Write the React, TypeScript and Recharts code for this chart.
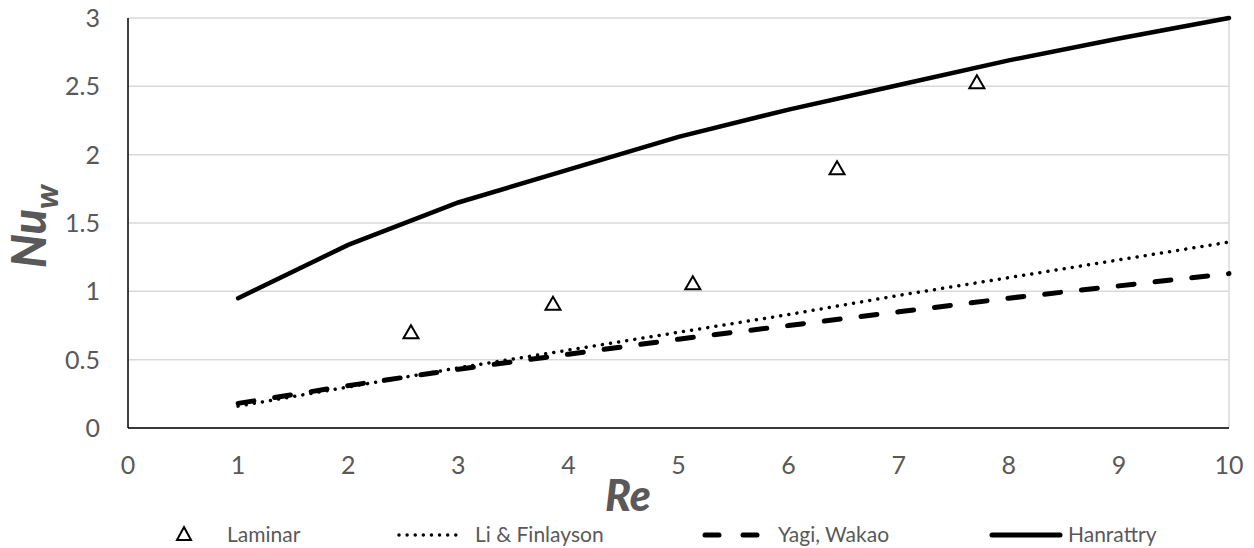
import {
  ComposedChart,
  Line,
  Scatter,
  XAxis,
  YAxis,
  CartesianGrid,
  ReferenceLine
} from "recharts";

const reValues = [1, 2, 3, 4, 5, 6, 7, 8, 9, 10];
const liFinlayson = [0.16, 0.3, 0.44, 0.57, 0.7, 0.83, 0.97, 1.1, 1.23, 1.36];
const yagiWakao = [0.18, 0.31, 0.43, 0.54, 0.65, 0.75, 0.85, 0.95, 1.04, 1.13];
const hanrattry = [0.95, 1.34, 1.65, 1.89, 2.13, 2.33, 2.51, 2.69, 2.85, 3.0];

const laminarRe = [2.57, 3.86, 5.13, 6.44, 7.71];
const laminarNu = [0.7, 0.91, 1.06, 1.9, 2.53];

const xTicks = [0, 1, 2, 3, 4, 5, 6, 7, 8, 9, 10];
const yTicks = [0, 0.5, 1, 1.5, 2, 2.5, 3];

const FONT = "Lato, 'Open Sans', sans-serif";
const GREY = "#595959";

const toPoints = (ys: number[]) => reValues.map((x, i) => ({ x, y: ys[i] }));
const laminarData = laminarRe.map((x, i) => ({ x, y: laminarNu[i] }));

const Triangle = (props: any) => {
  const { cx, cy } = props;
  if (cx == null || cy == null) return null;
  return (
    <path
      d={`M${cx},${cy - 7} L${cx + 7.5},${cy + 6} L${cx - 7.5},${cy + 6} Z`}
      fill="#fff"
      stroke="#000"
      strokeWidth={2}
    />
  );
};

const YLabel = () => (
  <text
    x={46}
    y={268}
    transform="rotate(-90, 46, 268)"
    fill={GREY}
    fontFamily={FONT}
    fontWeight={900}
    fontStyle="italic"
  >
    <tspan fontSize={47}>Nu</tspan>
    <tspan fontSize={33} dy={12}>w</tspan>
  </text>
);

function LegendRow() {
  const text = { fill: GREY, fontFamily: FONT, fontSize: 21 } as const;
  return (
    <svg width={1254} height={40} style={{ position: "absolute", left: 0, top: 514 }}>
      <path d="M184,13 L191,26 L177,26 Z" fill="#fff" stroke="#000" strokeWidth={2} />
      <text x={227} y={28} {...text}>Laminar</text>
      <line x1={399} y1={21} x2={463} y2={21} stroke="#000" strokeWidth={3.5} strokeDasharray="0.01 8.1" strokeLinecap="round" />
      <text x={475} y={28} {...text}>Li &amp; Finlayson</text>
      <line x1={705} y1={21} x2={760} y2={21} stroke="#000" strokeWidth={5} strokeDasharray="14 24" strokeLinecap="round" />
      <text x={778} y={28} {...text}>Yagi, Wakao</text>
      <line x1={992} y1={21} x2={1060} y2={21} stroke="#000" strokeWidth={5} strokeLinecap="round" />
      <text x={1068} y={28} {...text}>Hanrattry</text>
    </svg>
  );
}

export default function App() {
  return (
    <div style={{ position: "absolute", left: 0, top: 0, width: 1254, height: 548, background: "#fff" }}>
      <ComposedChart width={1254} height={548} margin={{ top: 18, right: 25, left: 0, bottom: 0 }}>
        <CartesianGrid vertical={false} stroke="#d9d9d9" strokeWidth={1.5} />
        <ReferenceLine x={10} stroke="#d9d9d9" strokeWidth={1.5} />
        <XAxis
          type="number"
          dataKey="x"
          domain={[0, 10]}
          ticks={xTicks}
          height={120}
          tickSize={0}
          tickMargin={28}
          axisLine={{ stroke: "#000", strokeWidth: 1.5 }}
          tick={{ fill: GREY, fontFamily: FONT, fontSize: 25 }}
          label={({ viewBox }: any) => (
            <text
              x={628}
              y={viewBox.y + 83}
              textAnchor="middle"
              fill={GREY}
              fontFamily={FONT}
              fontSize={43}
              fontWeight={900}
              fontStyle="italic"
            >
              Re
            </text>
          )}
        />
        <YAxis
          type="number"
          domain={[0, 3]}
          ticks={yTicks}
          width={128}
          tickSize={0}
          tickMargin={28}
          axisLine={{ stroke: "#000", strokeWidth: 1.5 }}
          tick={{ fill: GREY, fontFamily: FONT, fontSize: 25 }}
          label={<YLabel />}
        />
        <Line
          data={toPoints(liFinlayson)}
          dataKey="y"
          stroke="#000"
          strokeWidth={3.5}
          strokeDasharray="0.01 8.2"
          strokeLinecap="round"
          dot={false}
          type="linear"
          isAnimationActive={false}
        />
        <Line
          data={toPoints(yagiWakao)}
          dataKey="y"
          stroke="#000"
          strokeWidth={5}
          strokeDasharray="16 21"
          strokeLinecap="round"
          dot={false}
          type="linear"
          isAnimationActive={false}
        />
        <Line
          data={toPoints(hanrattry)}
          dataKey="y"
          stroke="#000"
          strokeWidth={4.5}
          strokeLinecap="round"
          dot={false}
          type="linear"
          isAnimationActive={false}
        />
        <Scatter data={laminarData} dataKey="y" shape={<Triangle />} isAnimationActive={false} />
      </ComposedChart>
      <LegendRow />
    </div>
  );
}
